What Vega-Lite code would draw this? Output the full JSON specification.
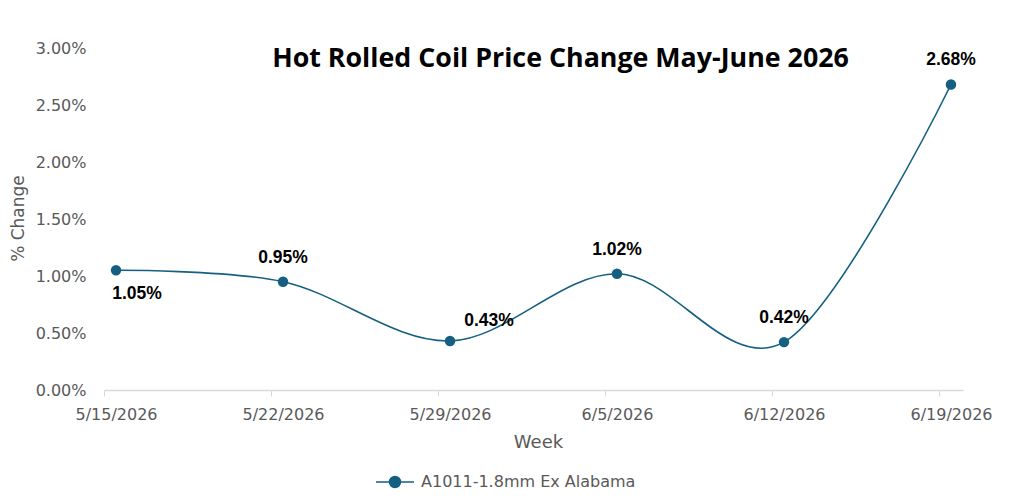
{
  "$schema": "https://vega.github.io/schema/vega-lite/v6.json",
  "width": 859,
  "height": 342,
  "autosize": {"type": "none"},
  "padding": {"left": 104, "top": 48, "right": 61, "bottom": 114},
  "background": "white",
  "title": {
    "text": "Hot Rolled Coil Price Change May-June 2026",
    "anchor": "middle",
    "frame": "group",
    "offset": -22,
    "baseline": "alphabetic",
    "dx": 27,
    "dy": 32,
    "font": "Open Sans",
    "fontSize": 26.8,
    "fontWeight": "bold",
    "color": "#000000"
  },
  "data": {
    "values": [
      {"week": "5/15/2026", "change": 0.0105, "series": "A1011-1.8mm Ex Alabama"},
      {"week": "5/22/2026", "change": 0.0095, "series": "A1011-1.8mm Ex Alabama"},
      {"week": "5/29/2026", "change": 0.0043, "series": "A1011-1.8mm Ex Alabama"},
      {"week": "6/5/2026", "change": 0.0102, "series": "A1011-1.8mm Ex Alabama"},
      {"week": "6/12/2026", "change": 0.0042, "series": "A1011-1.8mm Ex Alabama"},
      {"week": "6/19/2026", "change": 0.0268, "series": "A1011-1.8mm Ex Alabama"}
    ]
  },
  "encoding": {
    "x": {
      "field": "week",
      "type": "ordinal",
      "sort": null,
      "scale": {"type": "point", "padding": 0.072},
      "axis": {
        "title": "Week",
        "labelAngle": 0,
        "labelFont": "DejaVu Sans",
        "labelFontSize": 16,
        "labelColor": "#595959",
        "labelPadding": 10,
        "labelOffset": 12,
        "tickSize": 6,
        "tickColor": "#d9d9d9",
        "tickOffset": -12,
        "domainColor": "#d9d9d9",
        "domainWidth": 1.5,
        "grid": false,
        "titleFont": "DejaVu Sans",
        "titleFontSize": 18,
        "titleFontWeight": "normal",
        "titleColor": "#595959",
        "titleBaseline": "middle",
        "titleX": 434,
        "titleY": 52
      }
    },
    "y": {
      "field": "change",
      "type": "quantitative",
      "scale": {"domain": [0, 0.03]},
      "axis": {
        "title": "% Change",
        "format": ".2%",
        "values": [0, 0.005, 0.01, 0.015, 0.02, 0.025, 0.03],
        "grid": false,
        "domain": false,
        "ticks": false,
        "labelPadding": 18,
        "labelFont": "DejaVu Sans",
        "labelFontSize": 16,
        "labelColor": "#595959",
        "titleFont": "DejaVu Sans",
        "titleFontSize": 17,
        "titleFontWeight": "normal",
        "titleColor": "#595959",
        "titleBaseline": "middle",
        "titleX": -86,
        "titleY": 170
      }
    }
  },
  "layer": [
    {
      "mark": {"type": "line", "interpolate": "cardinal", "tension": 0, "strokeWidth": 1.6},
      "encoding": {
        "color": {
          "field": "series",
          "type": "nominal",
          "scale": {"range": ["#156082"]},
          "legend": {
            "title": null,
            "orient": "none",
            "legendX": 271,
            "legendY": 414,
            "padding": 0,
            "symbolType": "M-1,0L1,0M0.29,0A0.29,0.29,0,1,1,-0.29,0A0.29,0.29,0,1,1,0.29,0",
            "symbolSize": 1444,
            "symbolStrokeWidth": 1.5,
            "symbolFillColor": "#156082",
            "symbolStrokeColor": "#156082",
            "labelFont": "DejaVu Sans",
            "labelFontSize": 16,
            "labelColor": "#595959",
            "labelLimit": 0,
            "labelOffset": 6
          }
        }
      }
    },
    {
      "mark": {"type": "point", "filled": true, "size": 110, "opacity": 1, "color": "#156082"}
    },
    {
      "transform": [{"filter": {"field": "week", "oneOf": ["5/22/2026", "6/5/2026", "6/12/2026", "6/19/2026"]}}],
      "mark": {"type": "text", "dy": -24, "baseline": "middle", "font": "Liberation Sans", "fontSize": 17.5, "fontWeight": "bold", "color": "#000000"},
      "encoding": {"text": {"field": "change", "type": "quantitative", "format": ".2%"}}
    },
    {
      "transform": [{"filter": {"field": "week", "equal": "5/15/2026"}}],
      "mark": {"type": "text", "dx": 21, "dy": 24, "baseline": "middle", "font": "Liberation Sans", "fontSize": 17.5, "fontWeight": "bold", "color": "#000000"},
      "encoding": {"text": {"field": "change", "type": "quantitative", "format": ".2%"}}
    },
    {
      "transform": [{"filter": {"field": "week", "equal": "5/29/2026"}}],
      "mark": {"type": "text", "dx": 39, "dy": -20, "baseline": "middle", "font": "Liberation Sans", "fontSize": 17.5, "fontWeight": "bold", "color": "#000000"},
      "encoding": {"text": {"field": "change", "type": "quantitative", "format": ".2%"}}
    }
  ],
  "config": {"view": {"stroke": null}}
}
